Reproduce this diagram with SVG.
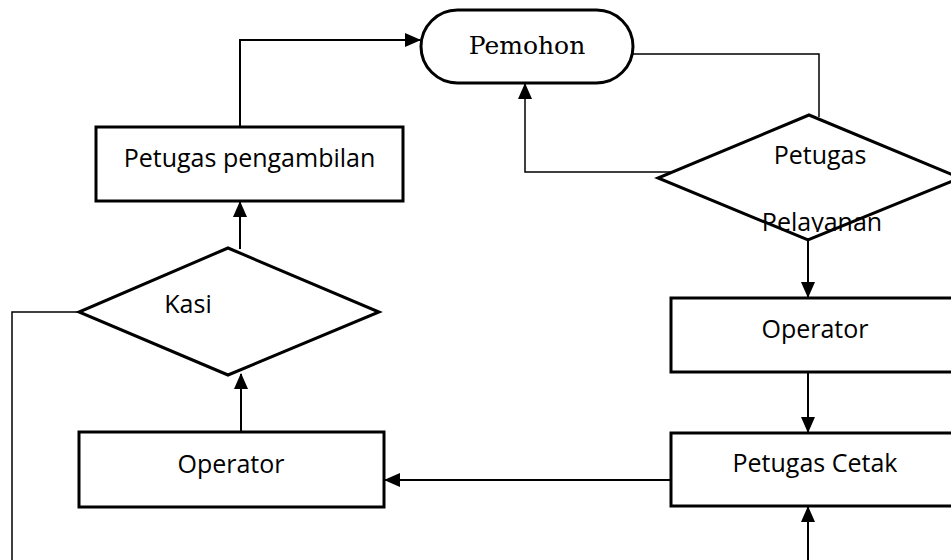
<svg xmlns="http://www.w3.org/2000/svg" width="951" height="560" viewBox="0 0 951 560">
<style>
.shape{fill:#fff;stroke:#000;stroke-width:3}
.lbl{font-family:"Open Sans","Noto Sans",sans-serif;font-size:25px;fill:#000;text-anchor:middle}
.serif{font-family:"DejaVu Serif","Liberation Serif",serif;font-size:25px;fill:#000;text-anchor:middle}
.conn{fill:none;stroke:#000;stroke-width:2}
.thin{fill:none;stroke:#000;stroke-width:1.5}
</style>
<defs>
<marker id="arr" markerUnits="userSpaceOnUse" markerWidth="16" markerHeight="16" viewBox="0 0 16 16" refX="15" refY="8" orient="auto">
<path d="M0,1 L16,8 L0,15 Z" fill="#000"/>
</marker>
<clipPath id="clipPel"><rect x="700" y="190" width="220" height="42"/></clipPath>
</defs>
<rect width="951" height="560" fill="#fff"/>
<g id="connectors">
<path class="conn" d="M240,127 V40 H420" marker-end="url(#arr)"/>
<path class="thin" d="M633,54 H819 V117"/>
<path class="thin" d="M672,172 H525 V84" marker-end="url(#arr)"/>
<path class="conn" d="M808,240 V297" marker-end="url(#arr)"/>
<path class="conn" d="M808,372 V432" marker-end="url(#arr)"/>
<path class="conn" d="M808,560 V507" marker-end="url(#arr)"/>
<path class="conn" d="M671,480 H385" marker-end="url(#arr)"/>
<path class="conn" d="M241,432 V374" marker-end="url(#arr)"/>
<path class="conn" d="M240,249 V202" marker-end="url(#arr)"/>
<path class="thin" d="M79,312 H12 V560"/>
</g>
<g id="pemohon">
<rect class="shape" x="421" y="10" width="212" height="73" rx="36.5"/>
<text class="serif" x="527" y="54">Pemohon</text>
</g>
<g id="petugas-pelayanan">
<polygon class="shape" points="809,115 960,178 808,240 658,178"/>
<text class="lbl" x="820" y="164">Petugas</text>
<text class="lbl" x="822" y="231" clip-path="url(#clipPel)">Pelayanan</text>
</g>
<g id="operator-right">
<rect class="shape" x="671" y="298" width="290" height="74"/>
<text class="lbl" x="815" y="338">Operator</text>
</g>
<g id="petugas-cetak">
<rect class="shape" x="671" y="433" width="290" height="73"/>
<text class="lbl" x="815" y="472">Petugas Cetak</text>
</g>
<g id="operator-left">
<rect class="shape" x="79" y="432" width="305" height="75"/>
<text class="lbl" x="231" y="473">Operator</text>
</g>
<g id="kasi">
<polygon class="shape" points="228,248 379,312 228,375 79,312"/>
<text class="lbl" x="188" y="313">Kasi</text>
</g>
<g id="petugas-pengambilan">
<rect class="shape" x="96" y="127" width="307" height="74"/>
<text class="lbl" x="249.5" y="167">Petugas pengambilan</text>
</g>
</svg>
